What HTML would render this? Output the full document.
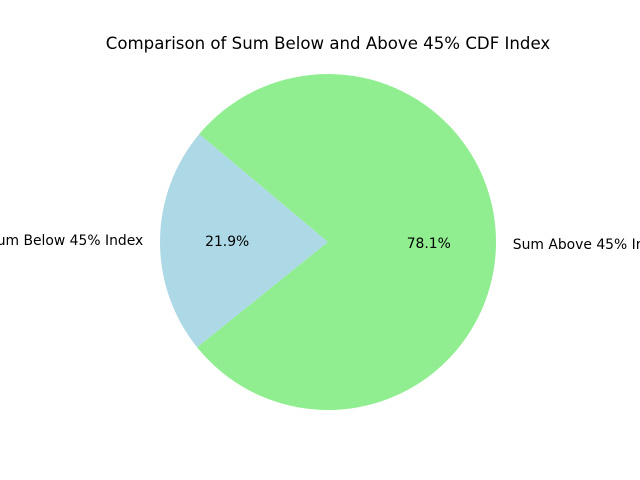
<!DOCTYPE html>
<html>
<head>
<meta charset="utf-8">
<style>
html,body{margin:0;padding:0;background:#fff;}
svg{display:block;font-family:"DejaVu Sans","Liberation Sans",sans-serif;}
</style>
</head>
<body>
<svg id="chart" width="640" height="480" viewBox="0 0 640 480">
<text x="328" y="49" text-anchor="middle" font-size="16.6" fill="#000">Comparison of Sum Below and Above 45% CDF Index</text>
<g id="slices"></g>
<g id="labels"></g>
</svg>
<script>
const categories = ["Sum Below 45% Index", "Sum Above 45% Index"];
const values = [21.9, 78.1];
const colors = ["#add8e6", "#90ee90"];
const startAngle = 140;

const cx = 328, cy = 242, r = 168;
const NS = "http://www.w3.org/2000/svg";
const sG = document.getElementById("slices");
const lG = document.getElementById("labels");
const total = values.reduce((a, b) => a + b, 0);
function pt(deg, rad) {
  const a = deg * Math.PI / 180;
  return [cx + rad * Math.cos(a), cy - rad * Math.sin(a)];
}
let ang = startAngle;
values.forEach((v, i) => {
  const sweep = v / total * 360;
  const a0 = ang, a1 = ang + sweep;
  const p0 = pt(a0, r), p1 = pt(a1, r);
  const large = sweep > 180 ? 1 : 0;
  const path = document.createElementNS(NS, "path");
  path.setAttribute("d", `M${cx},${cy} L${p0[0]},${p0[1]} A${r},${r} 0 ${large} 0 ${p1[0]},${p1[1]} Z`);
  path.setAttribute("fill", colors[i]);
  
  
  sG.appendChild(path);
  const mid = (a0 + a1) / 2;
  const lp = pt(mid, r * 1.1);
  const cosm = Math.cos(mid * Math.PI / 180);
  const lab = document.createElementNS(NS, "text");
  lab.setAttribute("x", lp[0]);
  lab.setAttribute("y", lp[1] + 5);
  lab.setAttribute("font-size", "13.9");
  lab.setAttribute("text-anchor", cosm < 0 ? "end" : "start");
  lab.textContent = categories[i];
  
  
  lG.appendChild(lab);
  const pp = pt(mid, r * 0.6);
  const pct = document.createElementNS(NS, "text");
  pct.setAttribute("x", pp[0]);
  pct.setAttribute("y", pp[1] + 5);
  pct.setAttribute("font-size", "13.9");
  pct.setAttribute("text-anchor", "middle");
  pct.textContent = (v / total * 100).toFixed(1) + "%";
  
  
  lG.appendChild(pct);
  ang = a1;
});
</script>
</body>
</html>
